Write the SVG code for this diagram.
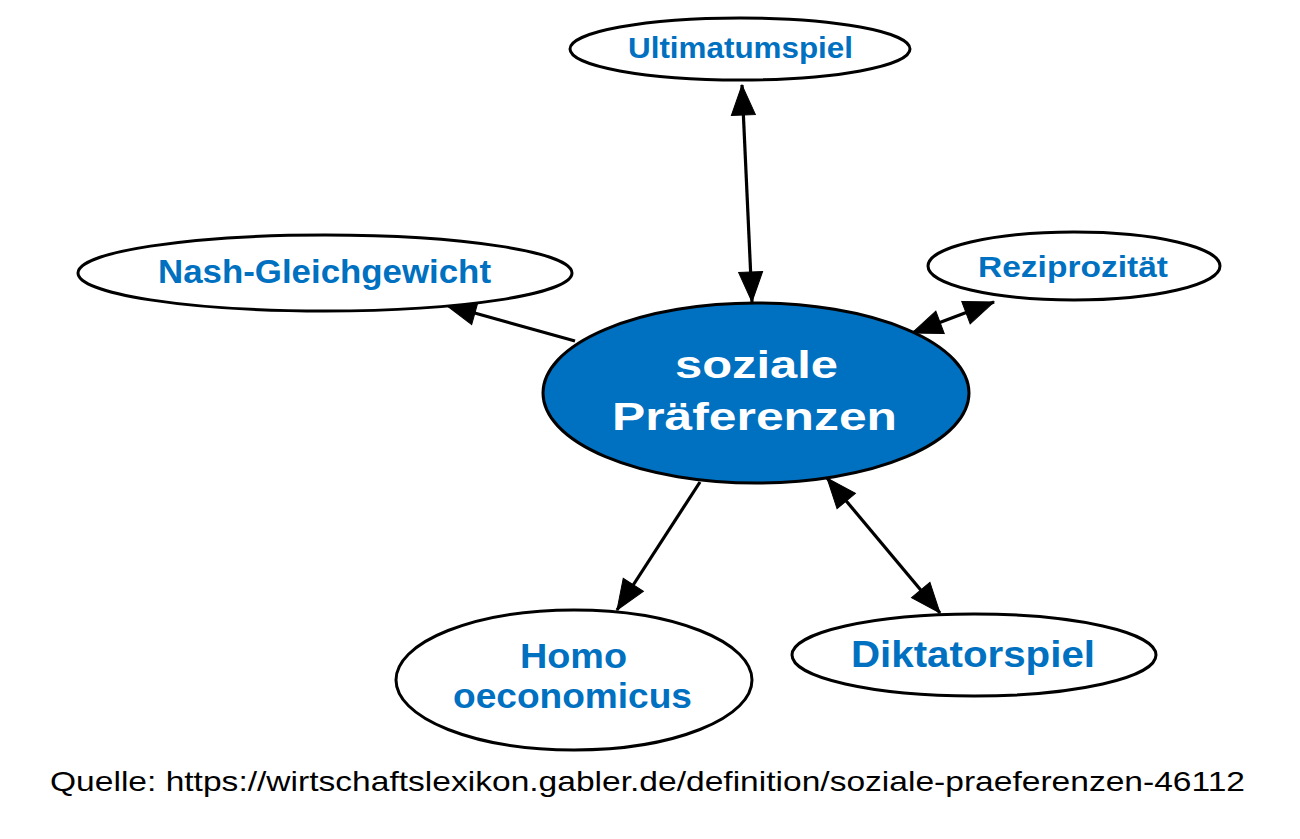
<svg xmlns="http://www.w3.org/2000/svg" width="1300" height="839" viewBox="0 0 1300 839">
<defs>
<marker id="ah" markerUnits="userSpaceOnUse" markerWidth="34" markerHeight="28" refX="30" refY="12" orient="auto-start-reverse" viewBox="-2 -2 34 28">
<path d="M0,0 L30,12 L0,24 z" fill="#000" stroke="#000" stroke-width="1"/>
</marker>
<style>
.n{fill:#fff;stroke:#000;stroke-width:3}
.c{fill:#0070C0;stroke:#000;stroke-width:3}
.t{font-family:"Liberation Sans",Arial,sans-serif;font-weight:bold;fill:#0070C0;text-anchor:middle}
.w{font-family:"Liberation Sans",Arial,sans-serif;font-weight:bold;fill:#fff;text-anchor:middle}
.e{stroke:#000;stroke-width:3.2;fill:none}
</style>
</defs>
<rect width="1300" height="839" fill="#fff"/>
<g id="connectors">
<line class="e" x1="742" y1="85" x2="752" y2="302" marker-start="url(#ah)" marker-end="url(#ah)"/>
<line class="e" x1="575" y1="341" x2="446" y2="305" marker-end="url(#ah)"/>
<line class="e" x1="912" y1="333" x2="994" y2="302" marker-start="url(#ah)" marker-end="url(#ah)"/>
<line class="e" x1="700" y1="482" x2="617" y2="610" marker-end="url(#ah)"/>
<line class="e" x1="827" y1="478" x2="940" y2="613" marker-start="url(#ah)" marker-end="url(#ah)"/>
</g>
<g id="center">
<ellipse class="c" cx="756" cy="393" rx="213" ry="90"/>
<text class="w" x="756.5" y="378" font-size="39" textLength="163" lengthAdjust="spacingAndGlyphs">soziale</text>
<text class="w" x="754.5" y="430" font-size="39" textLength="285" lengthAdjust="spacingAndGlyphs">Präferenzen</text>
</g>
<g id="ultimatum">
<ellipse class="n" cx="740" cy="49" rx="170" ry="31"/>
<text class="t" x="740.5" y="58" font-size="29" textLength="225" lengthAdjust="spacingAndGlyphs">Ultimatumspiel</text>
</g>
<g id="nash">
<ellipse class="n" cx="325" cy="273" rx="247" ry="38"/>
<text class="t" x="324.5" y="283" font-size="33" textLength="333" lengthAdjust="spacingAndGlyphs">Nash-Gleichgewicht</text>
</g>
<g id="reziprozitaet">
<ellipse class="n" cx="1074" cy="266" rx="146" ry="34"/>
<text class="t" x="1073" y="277" font-size="30" textLength="190" lengthAdjust="spacingAndGlyphs">Reziprozität</text>
</g>
<g id="homo">
<ellipse class="n" cx="574" cy="680" rx="178" ry="70"/>
<text class="t" x="573.5" y="668" font-size="35" textLength="107" lengthAdjust="spacingAndGlyphs">Homo</text>
<text class="t" x="572.5" y="708" font-size="35" textLength="239" lengthAdjust="spacingAndGlyphs">oeconomicus</text>
</g>
<g id="diktator">
<ellipse class="n" cx="974" cy="655" rx="182" ry="41"/>
<text class="t" x="973" y="667" font-size="37" textLength="244" lengthAdjust="spacingAndGlyphs">Diktatorspiel</text>
</g>
<text x="647.5" y="791" font-family="'Liberation Sans',Arial,sans-serif" font-size="28" text-anchor="middle" fill="#000" textLength="1195" lengthAdjust="spacingAndGlyphs">Quelle: https://wirtschaftslexikon.gabler.de/definition/soziale-praeferenzen-46112</text>
</svg>
